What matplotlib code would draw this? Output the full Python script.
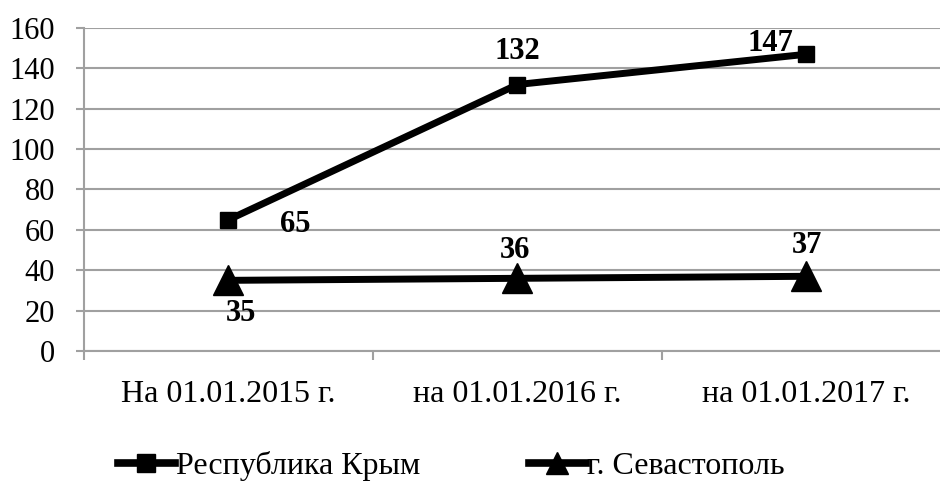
import matplotlib
matplotlib.use('Agg')
import matplotlib.pyplot as plt
from matplotlib.lines import Line2D
import numpy as np

plt.rcParams['font.family'] = ['Liberation Serif', 'DejaVu Serif']

categories = ['На 01.01.2015 г.', 'на 01.01.2016 г.', 'на 01.01.2017 г.']
crimea = [65, 132, 147]
sevastopol = [35, 36, 37]
yticks = [0, 20, 40, 60, 80, 100, 120, 140, 160]

W, H = 940, 482
fig = plt.figure(figsize=(W / 100, H / 100), dpi=100)
ax = fig.add_axes([84 / W, 1 - 351 / H, (951 - 84) / W, (351 - 28) / H])

x = np.arange(len(categories))
ax.plot(x, crimea, color='black', lw=5, marker='s', markersize=11, zorder=3)
ax.plot(x, sevastopol, color='black', lw=5, marker='^', markersize=22, zorder=3)

ax.set_xlim(-0.5, 2.5)
ax.set_ylim(0, 160)
ax.set_yticks(yticks)
ax.set_xticks(x)
ax.set_xticklabels(categories)
ax.set_xticks([-0.5, 0.5, 1.5, 2.5], minor=True)
ax.tick_params(axis='x', which='major', length=0, pad=21, labelsize=23)
ax.tick_params(axis='x', which='minor', length=6.5, width=1.5, color='#a0a0a0')
ax.tick_params(axis='y', length=6, width=1.5, color='#a0a0a0', labelsize=22, pad=15)
ax.grid(axis='y', color='#a0a0a0', lw=1.5)
ax.set_axisbelow(True)
for s in ['top', 'right']:
    ax.spines[s].set_visible(False)
for s in ['left', 'bottom']:
    ax.spines[s].set_color('#a0a0a0')
    ax.spines[s].set_linewidth(1.5)

# data labels
lab = dict(fontsize=22, fontweight='bold', ha='center', va='center')
ax.annotate(str(crimea[0]), (x[0], crimea[0]), xytext=(67, -5), textcoords='offset pixels', **lab)
ax.annotate(str(crimea[1]), (x[1], crimea[1]), xytext=(0, 33), textcoords='offset pixels', **lab)
ax.annotate(str(crimea[2]), (x[2], crimea[2]), xytext=(-36, 11), textcoords='offset pixels', **lab)
ax.annotate(str(sevastopol[0]), (x[0], sevastopol[0]), xytext=(13, -33), textcoords='offset pixels', **lab)
ax.annotate(str(sevastopol[1]), (x[1], sevastopol[1]), xytext=(-2, 28), textcoords='offset pixels', **lab)
ax.annotate(str(sevastopol[2]), (x[2], sevastopol[2]), xytext=(1, 31), textcoords='offset pixels', **lab)

h1 = Line2D([], [], color='black', lw=5.5, marker='s', markersize=13)
h2 = Line2D([], [], color='black', lw=5.5, marker='^', markersize=16)
fig.legend(handles=[h1, h2], labels=['Республика Крым', 'г. Севастополь'],
           loc='center', bbox_to_anchor=(451 / W, 1 - 466 / H),
           ncol=2, frameon=False, fontsize=23, handlelength=1.8, handletextpad=0.02,
           columnspacing=3.4, borderpad=0, borderaxespad=0)

fig.savefig('out.png', dpi=100)
